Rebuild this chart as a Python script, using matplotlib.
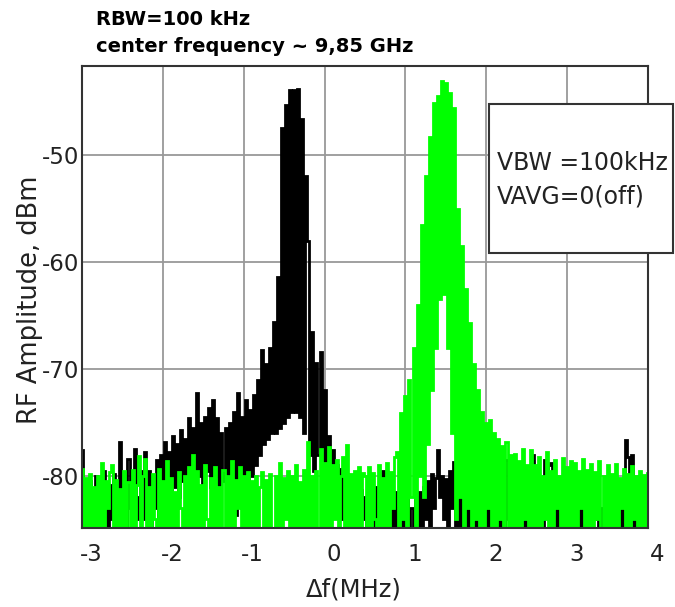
import numpy as np
import matplotlib
matplotlib.use("Agg")
import matplotlib.pyplot as plt
import matplotlib.transforms as mtransforms
from matplotlib.patches import Rectangle

plt.rcParams['font.family'] = ['DejaVu Sans']
plt.rcParams['axes.unicode_minus'] = False

# traces in dBm: 281 samples from -3 to 4 MHz,
# 28 samples (0.7 MHz) per row
black = [
    -77.6, -84, -81, -87, -80.5, -83, -86, -80, -84, -81.5, -88, -79.5, -83, -86, -80.8, -84, -79.8, -87, -82, -76.8, -84, -80.5, -86, -78.4, -83, -81, -77.5, -84,
    -82, -79.5, -84, -77.8, -83, -79.5, -85, -80, -83, -78.5, -84, -78, -82, -76.8, -81.5, -77.8, -82, -76.3, -81, -77, -82, -75.7, -80.5, -76.5, -81, -74.6, -80, -75.5,
    -80.5, -72.2, -80, -75, -81, -74.5, -79.5, -73.6, -81, -72.9, -80, -74.6, -81.5, -76, -80.5, -75.5, -82, -75, -80, -74, -83.6, -72.2, -81, -74.5, -80, -72.9, -81, -73.8,
    -80, -72.4, -79, -71, -78, -68.2, -77, -69.5, -76.5, -68, -76, -65.6, -76, -61.4, -75.5, -47.5, -75, -45.3, -74.5, -43.9, -74, -43.9, -74, -43.8, -74.5, -46.6, -76, -52,
    -58, -78, -66.5, -79.5, -69.4, -78, -68.4, -81, -72, -80, -76.3, -82, -77.6, -80.5, -79, -83, -79.3, -84, -80.2, -86, -80, -84, -80.4, -88, -80, -85, -81.3, -84,
    -82, -86, -81.8, -88, -82.5, -85, -81, -87, -83, -79.5, -84, -79.8, -88, -82, -85, -81.5, -88, -83, -86, -82, -88, -81, -85, -83, -88, -82, -86, -81.5,
    -86, -81, -84, -80.5, -87, -79.8, -83, -80.2, -77.6, -82, -80, -84, -80.3, -86, -79.5, -83, -78.7, -85, -81, -88, -82, -86, -81.5, -88, -82, -85, -83, -88,
    -84, -88, -82, -86, -81, -88, -83, -85, -81.5, -88, -82, -86, -83, -88, -78.5, -84, -79, -78.2, -86, -82, -88, -81, -85, -83, -88, -82, -84, -78,
    -84, -81, -86, -82, -88, -78.5, -80, -79, -78.8, -86, -81.5, -88, -82, -85, -83, -88, -81, -79.3, -87, -82, -85, -81, -88, -83, -85, -82, -88, -83,
    -86, -82, -84, -80.5, -88, -83, -85, -81.5, -88, -82, -84, -87, -81, -85, -83, -88, -81, -76.6, -78.2, -84, -78, -86, -83, -85, -80, -84, -82, -85,
    -80,
]

green = [
    -79.3, -88, -80.2, -88, -79.8, -86, -81, -88, -80, -88, -78.8, -87, -80.5, -83, -79.6, -79, -88, -80.4, -88, -81.2, -88, -79.5, -85, -80.6, -88, -79.4, -88, -80.8,
    -78.1, -88, -80, -78.4, -88, -81, -88, -79.8, -84, -88, -79.3, -88, -80.5, -88, -78.6, -86, -80.2, -88, -81.5, -88, -79.6, -83, -88, -80, -88, -79.2, -88, -78,
    -88, -79.5, -88, -80.8, -88, -79, -84, -88, -80.2, -88, -79.2, -88, -81, -86, -79.4, -88, -80, -88, -78.6, -88, -80.4, -83, -79.2, -88, -80, -88, -79.6, -88,
    -80.5, -88, -80, -88, -81, -79.6, -88, -80.4, -88, -79.8, -85, -88, -80, -88, -78.8, -88, -80.2, -84, -79.5, -88, -80, -88, -79, -88, -80.6, -88, -79.4, -88,
    -76.8, -88, -80, -88, -79.5, -88, -77.5, -86, -78.8, -88, -77.3, -88, -79, -84, -78.5, -88, -80, -78.2, -88, -77.1, -88, -79.8, -88, -79.5, -85, -79.2, -88, -79.7,
    -80, -88, -79.2, -88, -79.7, -84, -88, -79, -88, -80.2, -88, -78.8, -88, -79.6, -83, -78.2, -77.8, -88, -74.1, -84, -72.5, -88, -71, -82, -68, -86, -64, -80,
    -56.5, -82, -52, -77, -48.3, -72, -45.1, -68, -44.5, -63.5, -43.1, -63, -43.3, -68, -44.2, -76, -45.6, -84, -55, -82, -58.5, -86, -62.5, -83, -65.7, -88, -69.5, -84,
    -72, -86, -74, -88, -75, -83, -74.8, -88, -76, -88, -76.5, -84, -77.2, -88, -76.8, -88, -78, -85, -77.9, -88, -78.6, -88, -77.5, -84, -79, -88, -77.6, -88,
    -79, -88, -78.2, -88, -80, -84, -77.8, -88, -79.5, -88, -78.5, -83, -80, -88, -78.3, -88, -79.2, -85, -78.6, -88, -78.8, -88, -79.5, -83, -78.4, -88, -79.4, -88,
    -78.9, -88, -79.6, -84, -78.6, -88, -80, -88, -79, -85, -79.8, -88, -78.9, -88, -80.2, -83, -79.3, -88, -79.8, -88, -79.1, -84, -80, -88, -79.5, -88, -79.9, -86,
    -79.7,
]

y_ticks = [-80, -70, -60, -50]
x_ticks = [-3, -2, -1, 0, 1, 2, 3, 4]

W, H = 675, 607
fig = plt.figure(figsize=(W / 100, H / 100), dpi=100)
ax = fig.add_axes([82 / W, 1 - 528 / H, (648 - 82) / W, (528 - 66) / H])

# analyzer style: each sample is a vertical stroke from the previous level
ax.plot(np.linspace(-3, 4, len(black)), black, color='black', lw=2.0,
        drawstyle='steps-mid', solid_joinstyle='miter', zorder=2)
ax.plot(np.linspace(-3, 4, len(green)), green, color='#00ff00', lw=2.0,
        drawstyle='steps-mid', solid_joinstyle='miter', zorder=3)

ax.set_xlim(-3, 4)
ax.set_ylim(-84.86, -41.68)
ax.set_xticks(x_ticks)
ax.set_yticks(y_ticks)
ax.set_xticklabels([str(t) for t in x_ticks])
ax.set_yticklabels([str(t) for t in y_ticks])
ax.grid(True, color='#999999', lw=1.3)
ax.set_axisbelow(True)
ax.tick_params(axis='both', length=0, labelsize=16.5, colors='#222222')
ax.tick_params(axis='x', pad=11)
ax.tick_params(axis='y', pad=2)
for sp in ax.spines.values():
    sp.set_color('#333333')
    sp.set_linewidth(1.5)
    sp.set_zorder(4)

# x tick labels sit a bit right of their grid lines in the original
shift = mtransforms.ScaledTranslation(0.09, 0, fig.dpi_scale_trans)
for lab in ax.get_xticklabels():
    lab.set_transform(lab.get_transform() + shift)

# header text
fig.text(96 / W, 1 - 25 / H, 'RBW=100 kHz', fontsize=14, fontweight='bold', va='baseline')
fig.text(96 / W, 1 - 52 / H, 'center frequency ~ 9,85 GHz', fontsize=14, fontweight='bold', va='baseline')

# axis labels
fig.text(30 / W, 1 - 300 / H, 'RF Amplitude, dBm', rotation=90, fontsize=18.5,
         ha='center', va='center', color='#222222')
fig.text(354 / W, 1 - 590 / H, 'Δf(MHz)', fontsize=17.5, ha='center', va='center', color='#222222')

# annotation box
fig.add_artist(Rectangle((489 / W, 1 - 253 / H), (673 - 489) / W, (253 - 104) / H,
                         transform=fig.transFigure, facecolor='white',
                         edgecolor='#333333', lw=1.5, zorder=5))
fig.text(497 / W, 1 - 170 / H, 'VBW =100kHz', fontsize=17, va='baseline', zorder=6, color='#222222')
fig.text(497 / W, 1 - 203 / H, 'VAVG=0(off)', fontsize=17, va='baseline', zorder=6, color='#222222')

fig.savefig('out.png', dpi=100)
